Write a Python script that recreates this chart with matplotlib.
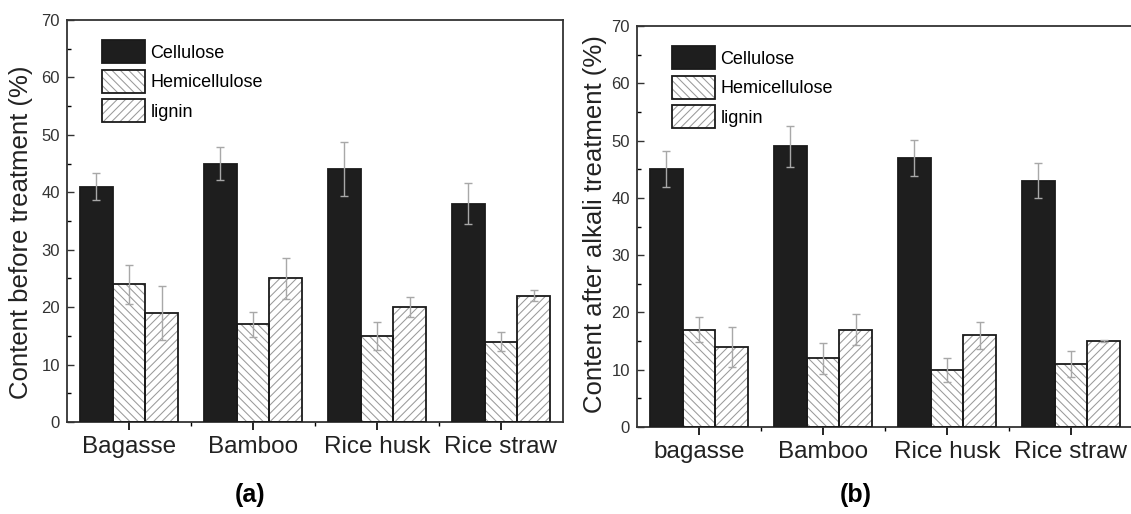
import numpy as np
import matplotlib
matplotlib.use('Agg')
import matplotlib.pyplot as plt

plt.rcParams['font.family'] = ['Liberation Sans', 'DejaVu Sans']
plt.rcParams['hatch.linewidth'] = 0.75

components = ['Cellulose', 'Hemicellulose', 'lignin']

labels_a = ['Bagasse', 'Bamboo', 'Rice husk', 'Rice straw']
cell_a = [41, 45, 44, 38]
cell_a_err = [2.3, 2.8, 4.7, 3.6]
hemi_a = [24, 17, 15, 14]
hemi_a_err = [3.4, 2.2, 2.5, 1.6]
lig_a = [19, 25, 20, 22]
lig_a_err = [4.7, 3.5, 1.7, 1.0]

labels_b = ['bagasse', 'Bamboo', 'Rice husk', 'Rice straw']
cell_b = [45, 49, 47, 43]
cell_b_err = [3.1, 3.6, 3.1, 3.1]
hemi_b = [17, 12, 10, 11]
hemi_b_err = [2.2, 2.7, 2.1, 2.3]
lig_b = [14, 17, 16, 15]
lig_b_err = [3.5, 2.7, 2.3, 0.15]

W = 1131
H = 514


def draw_panel(ax, labels, series, errs, ylabel, label_xy):
    x = np.arange(1, len(labels) + 1)
    w = 0.266
    hatches = [None, '\\\\\\\\', '////']
    handles = []
    for i, (vals, err, hatch) in enumerate(zip(series, errs, hatches)):
        pos = x + (i - 1) * w
        if hatch:
            b1 = ax.bar(pos, vals, w, color='white', edgecolor='#9a9a9a',
                        hatch=hatch, linewidth=0, zorder=2)
        else:
            b1 = ax.bar(pos, vals, w, color='#1e1e1e', linewidth=0, zorder=2)
        b2 = ax.bar(pos, vals, w, fill=False, edgecolor='#1a1a1a',
                    linewidth=1.3, zorder=3)
        ax.errorbar(pos, vals, yerr=err, fmt='none', ecolor='#a8a8a8',
                    elinewidth=1.0, capsize=3, capthick=1.0, zorder=4)
        handles.append((b1, b2))

    ax.set_xlim(0.5, len(labels) + 0.5)
    ax.set_ylim(0, 70)
    ax.set_yticks(np.arange(0, 71, 10))
    ax.set_yticks(np.arange(5, 70, 10), minor=True)
    ax.set_xticks(x)
    ax.set_xticklabels(labels, fontsize=17.5, color='#222222')
    ax.set_xticks(np.arange(1.5, len(labels), 1.0), minor=True)
    ax.tick_params(axis='y', which='major', direction='in', length=5,
                   width=1, labelsize=12, pad=5, colors='#333333')
    ax.tick_params(axis='y', which='minor', direction='in', length=3, width=1)
    ax.tick_params(axis='x', which='major', direction='out', length=6,
                   width=1.2, pad=4)
    ax.tick_params(axis='x', which='minor', direction='out', length=3, width=1)
    for s in ax.spines.values():
        s.set_linewidth(1.3)
        s.set_color('#333333')
    ax.set_ylabel(ylabel, fontsize=18.5, color='#222222')
    ax.yaxis.set_label_coords(*label_xy)

    ax.legend(handles, components, loc='upper left',
              bbox_to_anchor=(0.07, 0.95), frameon=False, fontsize=13,
              handlelength=2.4, handleheight=1.6, handletextpad=0.3,
              labelspacing=0.35, borderpad=0, borderaxespad=0)


fig = plt.figure(figsize=(W / 100, H / 100), dpi=100)
ax1 = fig.add_axes([67 / W, (H - 422) / H, 496 / W, 402 / H])
ax2 = fig.add_axes([637 / W, (H - 427) / H, 496 / W, 401 / H])

draw_panel(ax1, labels_a, [cell_a, hemi_a, lig_a],
           [cell_a_err, hemi_a_err, lig_a_err],
           'Content before treatment (%)',
           ((33 - 67) / 496, (422 - 232) / 402))
draw_panel(ax2, labels_b, [cell_b, hemi_b, lig_b],
           [cell_b_err, hemi_b_err, lig_b_err],
           'Content after alkali treatment (%)',
           ((607 - 637) / 496, (427 - 224) / 401))

fig.text(250 / W, 1 - 495 / H, '(a)', fontsize=18, fontweight='bold',
         ha='center', va='center')
fig.text(856 / W, 1 - 495 / H, '(b)', fontsize=18, fontweight='bold',
         ha='center', va='center')

fig.savefig('out.png', dpi=100)
